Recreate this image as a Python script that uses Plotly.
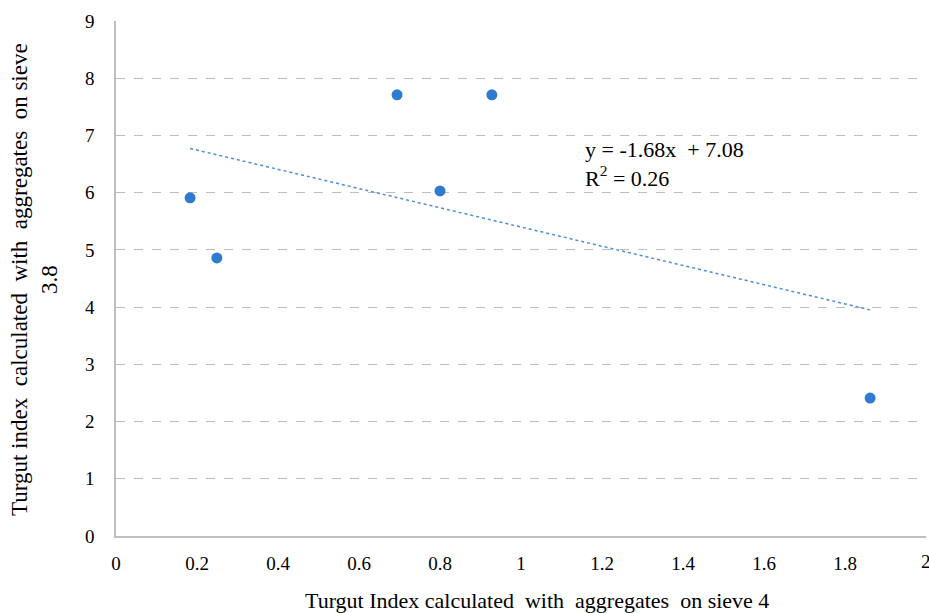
import plotly.graph_objects as go

# Turgut index values
sieve4_index = [0.183, 0.249, 0.694, 0.928, 0.800, 1.862]
sieve38_index = [5.91, 4.86, 7.71, 7.71, 6.03, 2.41]

# Linear trend line reported on the chart
slope = -1.68
intercept = 7.08
r_squared = 0.26

x_ticks = [0, 0.2, 0.4, 0.6, 0.8, 1, 1.2, 1.4, 1.6, 1.8]
x_tick_text = ["0", "0.2", "0.4", "0.6", "0.8", "1", "1.2", "1.4", "1.6", "1.8"]
x_last_tick = 2
y_ticks = list(range(0, 10))

FONT = "Liberation Serif"
BLUE = "#2E7BCF"
TICK_FONT = dict(family=FONT, size=19, color="#000000")

x_min, x_max = min(sieve4_index), max(sieve4_index)
trend_x = [x_min, x_max]
trend_y = [slope * v + intercept for v in trend_x]

fig = go.Figure()

fig.add_trace(go.Scatter(
    x=trend_x, y=trend_y, mode="lines",
    line=dict(color="#4A90D9", width=1.5, dash="dot"),
    hoverinfo="skip", showlegend=False,
))

fig.add_trace(go.Scatter(
    x=sieve4_index, y=sieve38_index, mode="markers",
    marker=dict(color=BLUE, size=11),
    showlegend=False,
))

# Equation label
fig.add_annotation(
    x=(583 - 116) / 810, y=(536 - 164) / 515, xref="paper", yref="paper",
    xanchor="left", yanchor="middle", align="left", showarrow=False,
    text=f"y = {slope:.2f}x  + {intercept:.2f}<br>R<sup>2</sup> = {r_squared:.2f}",
    font=dict(family=FONT, size=22, color="#000000"),
)

# Last x tick label, sitting on the right edge of the page
fig.add_annotation(
    x=x_last_tick, y=0, xref="x", yref="y", yshift=-25,
    xanchor="center", yanchor="middle", showarrow=False,
    text=str(x_last_tick), font=TICK_FONT,
)

# X axis title
fig.add_annotation(
    x=(537 - 116) / 810, y=(536 - 600) / 515, xref="paper", yref="paper",
    xanchor="center", yanchor="middle", showarrow=False,
    text="Turgut Index calculated  with  aggregates  on sieve 4",
    font=dict(family=FONT, size=22, color="#000000"),
)

# Y axis title (two lines)
fig.add_annotation(
    x=(34 - 116) / 810, y=(536 - 280) / 515, xref="paper", yref="paper",
    xanchor="center", yanchor="middle", showarrow=False, textangle=-90,
    text="Turgut index  calculated  with  aggregates  on sieve<br>3.8",
    font=dict(family=FONT, size=23, color="#000000"),
)

fig.update_layout(
    width=929, height=613,
    margin=dict(l=116, r=3, t=21, b=77),
    paper_bgcolor="white", plot_bgcolor="white",
    font=dict(family=FONT, size=19, color="#000000"),
    showlegend=False,
)

fig.update_xaxes(
    range=[0, 2], tickvals=x_ticks, ticktext=x_tick_text, tickfont=TICK_FONT,
    showgrid=False, zeroline=False,
    showline=True, linecolor="#BFBFBF", linewidth=1.5,
    ticks="", ticklabelstandoff=9, automargin=False,
)
fig.update_yaxes(
    range=[0, 9], tickvals=y_ticks, tickfont=TICK_FONT,
    showgrid=True, gridcolor="#BDBDBD", griddash="dash", gridwidth=1,
    zeroline=False,
    showline=True, linecolor="#BFBFBF", linewidth=1.5,
    ticks="", ticklabelstandoff=16, automargin=False,
)

fig.write_html("out.html")
